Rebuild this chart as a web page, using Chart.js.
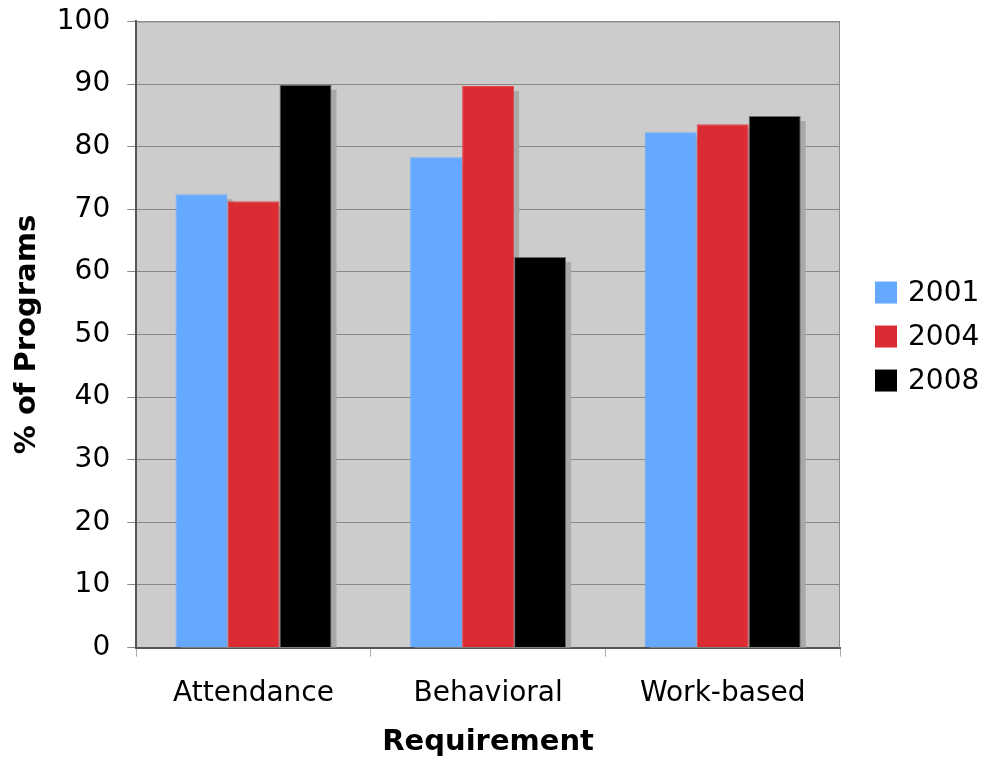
<!DOCTYPE html>
<html>
<head>
    <title>Requirement by Year</title>
    <script src="https://cdn.jsdelivr.net/npm/chart.js"></script>
    <style>
        html, body {
            margin: 0;
            padding: 0;
            background: #fff;
        }
        #wrap {
            width: 986px;
            height: 759px;
        }
    </style>
</head>
<body>
    <div id="wrap">
        <canvas id="reqChart" width="986" height="759"></canvas>
    </div>

    <script>
        const categories = ['Attendance', 'Behavioral', 'Work-based'];
        const years = ['2001', '2004', '2008'];
        const values2001 = [72.4, 78.3, 82.3];
        const values2004 = [71.3, 89.7, 83.6];
        const values2008 = [89.9, 62.4, 84.9];
        const yTicks = [0, 10, 20, 30, 40, 50, 60, 70, 80, 90, 100];

        const colors = ['#64a8ff', '#dc2c33', '#000000'];
        const borders = ['#6aacff', '#e2474d', '#6a6a6a'];
        const FONT = 'DejaVu Sans';

        // grey plot area + top/right frame
        const plotBg = {
            id: 'plotBg',
            beforeDraw(chart) {
                const { ctx, chartArea: a } = chart;
                ctx.save();
                ctx.fillStyle = '#cccccc';
                ctx.fillRect(a.left, a.top, a.right - a.left, a.bottom - a.top);
                ctx.restore();
            },
            afterDraw(chart) {
                const { ctx, chartArea: a } = chart;
                ctx.save();
                ctx.strokeStyle = '#8c8c8c';
                ctx.lineWidth = 1;
                ctx.beginPath();
                ctx.moveTo(a.left, a.top + 0.5);
                ctx.lineTo(a.right - 0.5, a.top + 0.5);
                ctx.lineTo(a.right - 0.5, a.bottom);
                ctx.stroke();
                ctx.restore();
            }
        };

        // flat grey drop shadow behind every bar, taken from the bar elements
        const barShadow = {
            id: 'barShadow',
            beforeDatasetsDraw(chart) {
                const { ctx, chartArea: a } = chart;
                ctx.save();
                ctx.beginPath();
                ctx.rect(a.left, a.top, a.right - a.left, a.bottom - a.top);
                ctx.clip();
                ctx.fillStyle = '#a9a9a9';
                chart.data.datasets.forEach((ds, i) => {
                    chart.getDatasetMeta(i).data.forEach(bar => {
                        const p = bar.getProps(['x', 'y', 'base', 'width'], true);
                        ctx.fillRect(p.x - p.width / 2 + 5, p.y + 5, p.width, p.base - p.y);
                    });
                });
                ctx.restore();
            }
        };

        // legend on the right, drawn from the datasets
        const sideLegend = {
            id: 'sideLegend',
            afterDraw(chart) {
                const { ctx, chartArea: a } = chart;
                const mid = (a.top + a.bottom) / 2 + 2;
                const step = 44;
                ctx.save();
                ctx.font = '28px "' + FONT + '"';
                ctx.textBaseline = 'middle';
                chart.data.datasets.forEach((ds, i) => {
                    const cy = mid + (i - 1) * step;
                    ctx.fillStyle = ds.backgroundColor;
                    ctx.fillRect(a.right + 35, cy - 11, 22, 22);
                    ctx.fillStyle = '#000';
                    ctx.fillText(ds.label, a.right + 68, cy + 1);
                });
                ctx.restore();
            }
        };

        const seriesValues = [values2001, values2004, values2008];

        new Chart(document.getElementById('reqChart'), {
            type: 'bar',
            data: {
                labels: categories,
                datasets: years.map((y, i) => ({
                    label: y,
                    data: seriesValues[i],
                    backgroundColor: colors[i],
                    borderColor: borders[i],
                    borderWidth: 1,
                    categoryPercentage: 0.665,
                    barPercentage: 1.0
                }))
            },
            options: {
                responsive: false,
                animation: false,
                layout: {
                    padding: { left: 10, right: 146, top: 0, bottom: -1 }
                },
                font: { family: FONT },
                plugins: {
                    tooltip: { enabled: false },
                    legend: { display: false }
                },
                scales: {
                    x: {
                        border: { color: '#555', width: 2 },
                        grid: {
                            offset: true,
                            drawOnChartArea: false,
                            tickLength: 9,
                            color: '#aaa'
                        },
                        ticks: {
                            color: '#000',
                            padding: 20,
                            font: { family: FONT, size: 28 }
                        },
                        title: {
                            display: true,
                            text: 'Requirement',
                            color: '#000',
                            padding: { top: -5, bottom: 0 },
                            font: { family: FONT, size: 29, weight: 'bold' }
                        }
                    },
                    y: {
                        min: 0,
                        max: 100,
                        afterBuildTicks(scale) {
                            scale.ticks = yTicks.map(v => ({ value: v }));
                        },
                        border: { color: '#555', width: 2 },
                        grid: {
                            color: '#888',
                            lineWidth: 1,
                            tickLength: 9
                        },
                        ticks: {
                            color: '#000',
                            padding: 17,
                            font: { family: FONT, size: 28, lineHeight: 0.32 }
                        },
                        title: {
                            display: true,
                            text: '% of Programs',
                            color: '#000',
                            padding: { top: 0, bottom: -5 },
                            font: { family: FONT, size: 29, weight: 'bold' }
                        }
                    }
                }
            },
            plugins: [plotBg, barShadow, sideLegend]
        });
    </script>
</body>
</html>
